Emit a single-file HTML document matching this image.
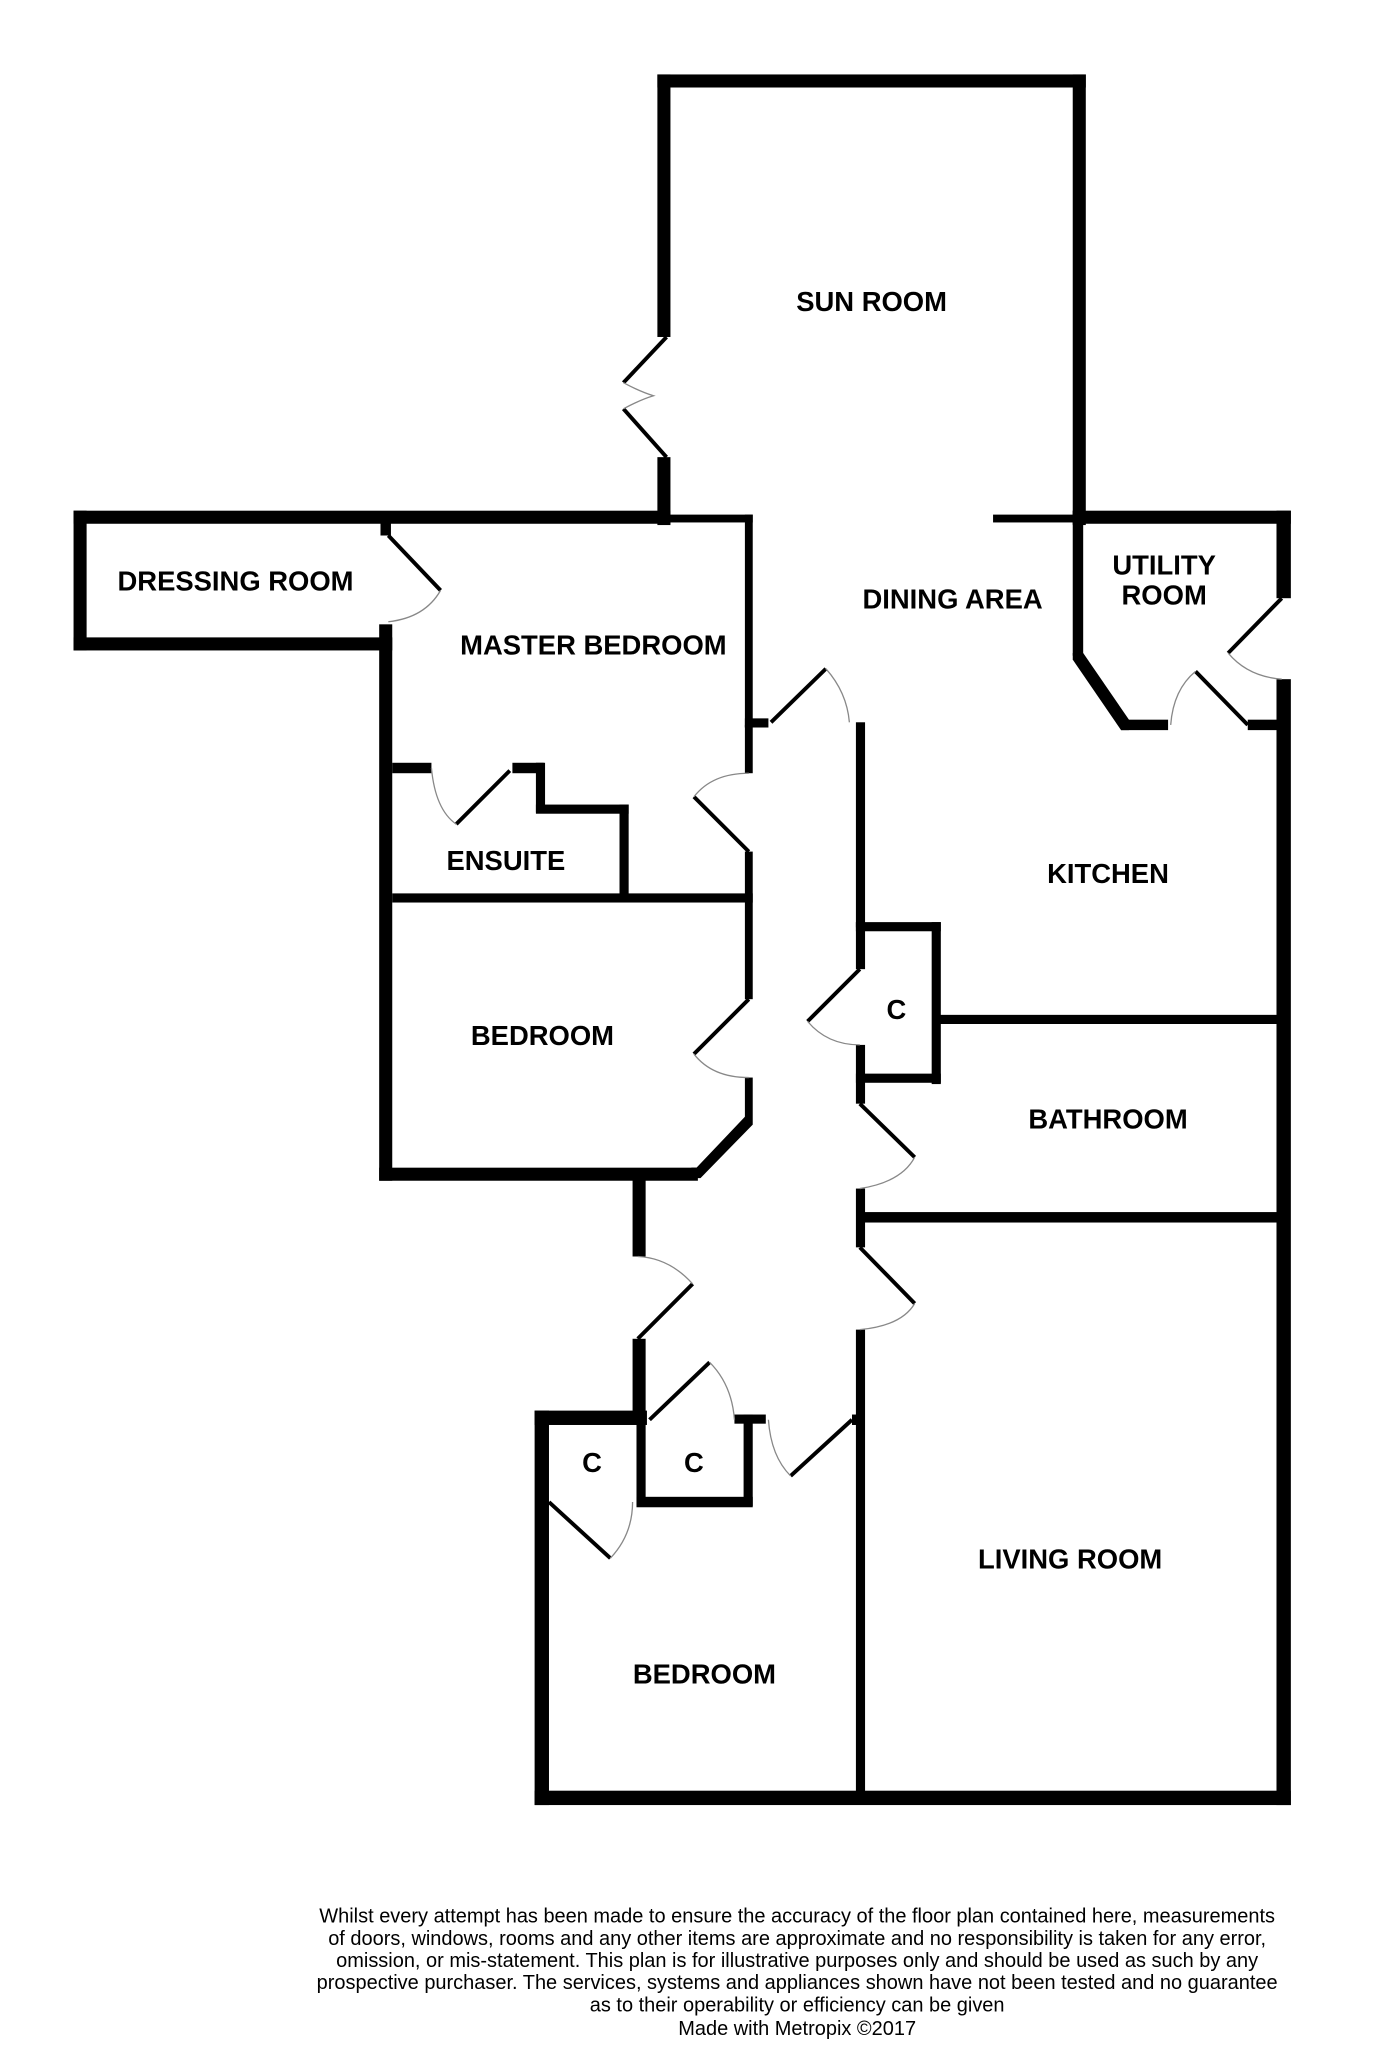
<!DOCTYPE html>
<html><head><meta charset="utf-8"><style>
html,body{margin:0;padding:0;background:#fff}
svg{display:block}
text{font-family:"Liberation Sans",sans-serif}
</style></head><body>
<svg width="1384" height="2048" viewBox="0 0 1059 1568" xmlns="http://www.w3.org/2000/svg">
<g fill="#000">
<rect x="503" y="57" width="328" height="10"/>
<rect x="503" y="57" width="10" height="201"/>
<rect x="503" y="350" width="10" height="52"/>
<rect x="821" y="57" width="10" height="345"/>
<rect x="56" y="391" width="457" height="10"/>
<rect x="508" y="394" width="68" height="6"/>
<rect x="56" y="391" width="10" height="107"/>
<rect x="56" y="488" width="244" height="10"/>
<rect x="291" y="395" width="8" height="15"/>
<rect x="290" y="478" width="10" height="426"/>
<rect x="290" y="894" width="244" height="10"/>
<rect x="570" y="394" width="6" height="163"/>
<rect x="570" y="550" width="18" height="7"/>
<rect x="570" y="555" width="6" height="37"/>
<rect x="570" y="652" width="6" height="113"/>
<rect x="570" y="825" width="6" height="33"/>
<polygon points="570,855 576,858 576,861 536,902 529,902 529,894 533,894"/>
<rect x="300" y="584" width="30" height="8"/>
<rect x="392" y="584" width="24" height="8"/>
<rect x="410" y="584" width="7" height="38"/>
<rect x="410" y="616" width="71" height="7"/>
<rect x="474" y="616" width="7" height="72"/>
<rect x="300" y="684" width="276" height="7"/>
<rect x="655" y="553" width="7" height="157"/>
<rect x="655" y="706" width="65" height="7"/>
<rect x="713" y="706" width="7" height="124"/>
<rect x="655" y="822" width="65" height="7"/>
<rect x="655" y="706" width="7" height="36"/>
<rect x="655" y="800" width="7" height="45"/>
<rect x="655" y="910" width="7" height="45"/>
<rect x="655" y="1018" width="7" height="362"/>
<rect x="760" y="394" width="65" height="6"/>
<rect x="821" y="391" width="167" height="10"/>
<rect x="977" y="391" width="11" height="67"/>
<rect x="977" y="520" width="11" height="862"/>
<rect x="821" y="391" width="8" height="111"/>
<polygon points="821,500 829,500 864,551 864,559 858,559 821,505"/>
<rect x="858" y="551" width="36" height="8"/>
<rect x="955" y="551" width="25" height="8"/>
<rect x="718" y="777" width="264" height="7"/>
<rect x="658" y="928" width="324" height="8"/>
<rect x="484" y="898" width="10" height="64"/>
<rect x="484" y="1025" width="10" height="62"/>
<rect x="409" y="1080" width="86" height="11"/>
<rect x="409" y="1080" width="11" height="302"/>
<rect x="409" y="1371" width="579" height="11"/>
<rect x="487" y="1080" width="7" height="73"/>
<rect x="487" y="1146" width="89" height="8"/>
<rect x="569" y="1083" width="7" height="70"/>
<rect x="562" y="1083" width="24" height="7"/>
<rect x="652" y="1083" width="8" height="8"/>
</g>
<g stroke="#000" stroke-width="3" fill="none">
<line x1="510" y1="258" x2="477" y2="293"/>
<line x1="510" y1="350" x2="477" y2="313"/>
<line x1="297" y1="410" x2="337" y2="452"/>
<line x1="590" y1="553" x2="632" y2="512"/>
<line x1="573" y1="652" x2="531" y2="610"/>
<line x1="349" y1="631" x2="390" y2="590"/>
<line x1="573" y1="765" x2="531" y2="807"/>
<line x1="658" y1="742" x2="618" y2="782"/>
<line x1="658" y1="845" x2="700" y2="886"/>
<line x1="658" y1="955" x2="700" y2="998"/>
<line x1="488" y1="1025" x2="530" y2="983"/>
<line x1="497" y1="1087" x2="543" y2="1043"/>
<line x1="605" y1="1130" x2="652" y2="1087"/>
<line x1="420" y1="1150" x2="467" y2="1193"/>
<line x1="981" y1="458" x2="940" y2="500"/>
<line x1="955" y1="555" x2="915" y2="514"/>
</g>
<g stroke="#888" stroke-width="1" fill="none">
<path d="M477,293 Q490,300 500,303 Q490,306 477,313"/>
<path d="M337,452 Q325,473 297,476"/>
<path d="M632,512 Q648,530 650,553"/>
<path d="M531,610 Q545,592 573,592"/>
<path d="M330,588 Q333,620 349,631"/>
<path d="M531,807 Q545,825 573,825"/>
<path d="M618,782 Q633,800 658,800"/>
<path d="M700,886 Q690,905 658,910"/>
<path d="M700,998 Q690,1015 658,1018"/>
<path d="M530,983 Q512,963 488,962"/>
<path d="M543,1043 Q560,1060 562,1087"/>
<path d="M605,1130 Q590,1115 588,1087"/>
<path d="M467,1193 Q484,1175 484,1150"/>
<path d="M940,500 Q955,518 981,520"/>
<path d="M915,514 Q898,528 896,555"/>
</g>
<g font-weight="bold" font-size="21" text-anchor="middle" fill="#000">
<text x="667" y="238">SUN ROOM</text>
<text x="180" y="452">DRESSING ROOM</text>
<text x="454" y="501">MASTER BEDROOM</text>
<text x="729" y="466">DINING AREA</text>
<text x="891" y="440">UTILITY</text>
<text x="891" y="463">ROOM</text>
<text x="387" y="666">ENSUITE</text>
<text x="848" y="676">KITCHEN</text>
<text x="686" y="780">C</text>
<text x="415" y="800">BEDROOM</text>
<text x="848" y="864">BATHROOM</text>
<text x="453" y="1127">C</text>
<text x="531" y="1127">C</text>
<text x="819" y="1201">LIVING ROOM</text>
<text x="539" y="1289">BEDROOM</text>
</g>
<g font-size="15.3" text-anchor="middle" fill="#000">
<text x="610" y="1472">Whilst every attempt has been made to ensure the accuracy of the floor plan contained here, measurements</text>
<text x="610" y="1489">of doors, windows, rooms and any other items are approximate and no responsibility is taken for any error,</text>
<text x="610" y="1506">omission, or mis-statement. This plan is for illustrative purposes only and should be used as such by any</text>
<text x="610" y="1523">prospective purchaser. The services, systems and appliances shown have not been tested and no guarantee</text>
<text x="610" y="1540">as to their operability or efficiency can be given</text>
<text x="610" y="1558">Made with Metropix ©2017</text>
</g>
</svg>
</body></html>
